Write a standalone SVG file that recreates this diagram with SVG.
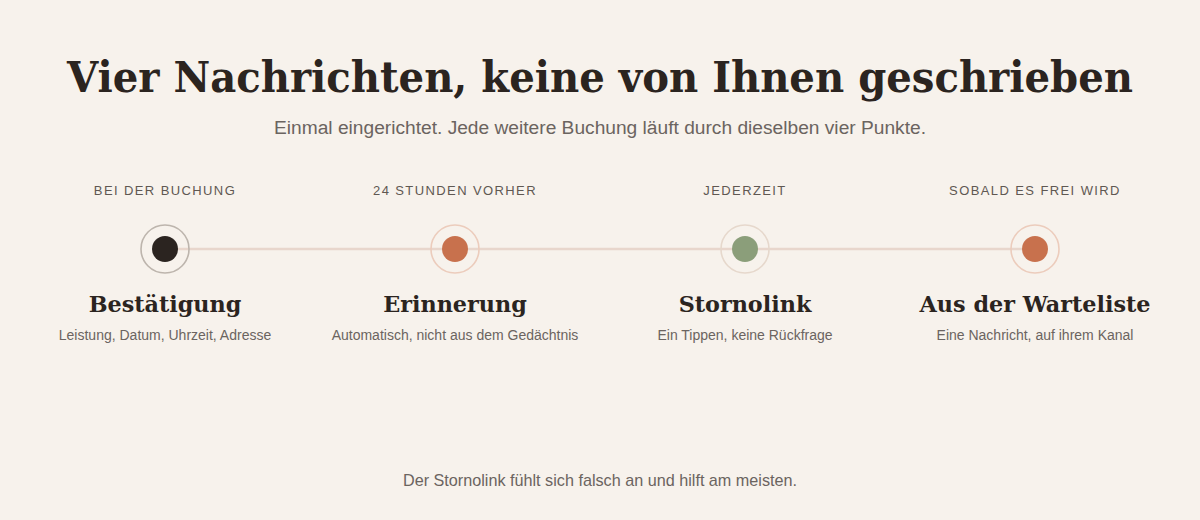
<svg xmlns="http://www.w3.org/2000/svg" width="1200" height="520" viewBox="0 0 1200 520">
<style>
.title{font-family:Georgia,"DejaVu Serif","Liberation Serif",serif;font-weight:bold;font-size:42px;fill:#2b2420;text-anchor:middle}
.sub{font-family:"Liberation Sans",Arial,sans-serif;font-size:18px;fill:#6b6460;text-anchor:middle}
.lbl{font-family:"Liberation Sans",Arial,sans-serif;font-size:13px;letter-spacing:1.4px;fill:#5f5852;text-anchor:middle}
.head{font-family:Georgia,"DejaVu Serif","Liberation Serif",serif;font-weight:bold;font-size:22.3px;fill:#2b2420;text-anchor:middle}
.desc{font-family:"Liberation Sans",Arial,sans-serif;font-size:14px;fill:#6b6460;text-anchor:middle}
.foot{font-family:"Liberation Sans",Arial,sans-serif;font-size:16.2px;fill:#6b6460;text-anchor:middle}
.ring{fill:none;stroke-width:1.6}
</style>
<rect width="1200" height="520" fill="#f7f2ec"/>
<text class="title" x="600" y="92" textLength="1066" lengthAdjust="spacingAndGlyphs">Vier Nachrichten, keine von Ihnen geschrieben</text>
<text class="sub" x="600" y="134" textLength="652" lengthAdjust="spacingAndGlyphs">Einmal eingerichtet. Jede weitere Buchung läuft durch dieselben vier Punkte.</text>
<g id="connectors">
<line x1="165" y1="249" x2="1035" y2="249" stroke="#e8d6cc" stroke-width="2.5"/>
</g>
<g id="n1">
<text class="lbl" x="165" y="195">BEI DER BUCHUNG</text>
<circle class="ring" cx="165" cy="249" r="24" stroke="#bdb5ad"/>
<circle cx="165" cy="249" r="13" fill="#2b2420"/>
<text class="head" x="165" y="312">Bestätigung</text>
<text class="desc" x="165" y="340">Leistung, Datum, Uhrzeit, Adresse</text>
</g>
<g id="n2">
<text class="lbl" x="455" y="195">24 STUNDEN VORHER</text>
<circle class="ring" cx="455" cy="249" r="24" stroke="#ecccbc"/>
<circle cx="455" cy="249" r="13" fill="#c8714d"/>
<text class="head" x="455" y="312">Erinnerung</text>
<text class="desc" x="455" y="340">Automatisch, nicht aus dem Gedächtnis</text>
</g>
<g id="n3">
<text class="lbl" x="745" y="195">JEDERZEIT</text>
<circle class="ring" cx="745" cy="249" r="24" stroke="#e6d8cc"/>
<circle cx="745" cy="249" r="13" fill="#8b9e7a"/>
<text class="head" x="745" y="312">Stornolink</text>
<text class="desc" x="745" y="340">Ein Tippen, keine Rückfrage</text>
</g>
<g id="n4">
<text class="lbl" x="1035" y="195">SOBALD ES FREI WIRD</text>
<circle class="ring" cx="1035" cy="249" r="24" stroke="#ecccbc"/>
<circle cx="1035" cy="249" r="13" fill="#c8714d"/>
<text class="head" x="1035" y="312">Aus der Warteliste</text>
<text class="desc" x="1035" y="340">Eine Nachricht, auf ihrem Kanal</text>
</g>
<text class="foot" x="600" y="486">Der Stornolink fühlt sich falsch an und hilft am meisten.</text>
</svg>
